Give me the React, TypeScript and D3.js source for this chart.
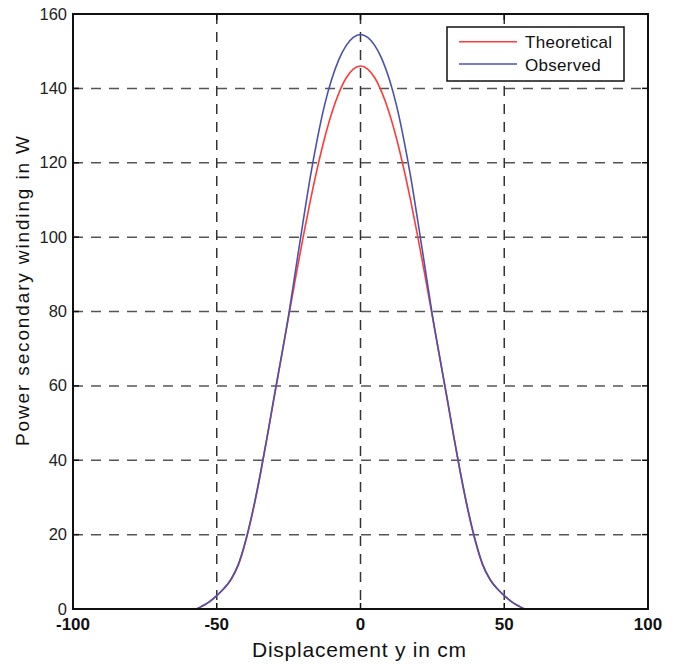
import React from "react";
import * as d3 from "d3";

const displacement = [-100, -60, -57.5, -55, -52.5, -50, -47.5, -45, -42.5, -40, -37.5, -35, -32.5, -30, -27.5, -25, -22.5, -20, -17.5, -15, -12.5, -10, -7.5, -5, -2.5, 0, 2.5, 5, 7.5, 10, 12.5, 15, 17.5, 20, 22.5, 25, 27.5, 30, 32.5, 35, 37.5, 40, 42.5, 45, 47.5, 50, 52.5, 55, 57.5, 60, 100];
const theoretical = [0, 0, 0, 0.8, 2, 3.6, 5.5, 8, 11.8, 18, 26, 35.5, 46, 57, 67.8, 78.6, 89.4, 99.8, 109.6, 118.6, 126.6, 133.4, 138.8, 142.8, 145.2, 146, 145.2, 142.8, 138.8, 133.4, 126.6, 118.6, 109.6, 99.8, 89.4, 78.6, 67.8, 57, 46, 35.5, 26, 18, 11.8, 8, 5.5, 3.6, 2, 0.8, 0, 0, 0];
const observed = [0, 0, 0, 0.8, 2, 3.6, 5.5, 8, 12, 18.3, 26.3, 35.7, 46.2, 57.3, 68, 79, 91.5, 104, 116, 126.5, 135.5, 142.5, 147.8, 151.5, 153.7, 154.5, 153.7, 151.5, 147.8, 142.5, 135.5, 126.5, 116, 104, 91.5, 79, 68, 57.3, 46.2, 35.7, 26.3, 18.3, 12, 8, 5.5, 3.6, 2, 0.8, 0, 0, 0];
const xTicks = [-100, -50, 0, 50, 100];
const yTicks = [0, 20, 40, 60, 80, 100, 120, 140, 160];
const xGrid = [-50, 0, 50];
const yGrid = [20, 40, 60, 80, 100, 120, 140];
const seriesNames = ["Theoretical", "Observed"];
const seriesColors = ["#ff3b3b", "#4a52b0"];

export default function App() {
  const W = 676, H = 664;
  const left = 73, right = 648, top = 14, bottom = 609;
  const x = d3.scaleLinear().domain([-100, 100]).range([left, right]);
  const y = d3.scaleLinear().domain([0, 160]).range([bottom, top]);
  const line = d3.line<number>().x((_, i) => x(displacement[i])).y((d) => y(d)).curve(d3.curveMonotoneX);
  const font = "'Liberation Sans', Arial, sans-serif";
  const series = [theoretical, observed];
  return (
    <svg width={W} height={H} style={{ position: "absolute", left: 0, top: 0, background: "#fff" }} fontFamily={font}>
      <rect x={0} y={0} width={W} height={H} fill="#fff" />
      {yGrid.map((v) => (
        <line key={"gy" + v} x1={left} x2={right} y1={y(v)} y2={y(v)} stroke="#555" strokeWidth={1.5} strokeDasharray="10,8" />
      ))}
      {xGrid.map((v) => (
        <line key={"gx" + v} x1={x(v)} x2={x(v)} y1={top} y2={bottom} stroke="#333" strokeWidth={1.5} strokeDasharray="10,8" />
      ))}
      {series.map((s, i) => (
        <path key={"s" + i} d={line(s) || ""} fill="none" stroke={seriesColors[i]} strokeWidth={1.6} />
      ))}
      <rect x={left} y={top} width={right - left} height={bottom - top} fill="none" stroke="#111" strokeWidth={2} />
      {xTicks.map((v) => (
        <g key={"tx" + v}>
          <line x1={x(v)} x2={x(v)} y1={bottom} y2={bottom - 6} stroke="#111" strokeWidth={1.5} />
          <line x1={x(v)} x2={x(v)} y1={top} y2={top + 6} stroke="#111" strokeWidth={1.5} />
          <text x={x(v)} y={630} textAnchor="middle" fontSize={17} fontWeight="bold" fill="#111">{v}</text>
        </g>
      ))}
      {yTicks.map((v) => (
        <g key={"ty" + v}>
          <line x1={left} x2={left + 6} y1={y(v)} y2={y(v)} stroke="#111" strokeWidth={1.5} />
          <line x1={right} x2={right - 6} y1={y(v)} y2={y(v)} stroke="#111" strokeWidth={1.5} />
          <text x={67} y={y(v) + 5.5} textAnchor="end" fontSize={16.5} fill="#222">{v}</text>
        </g>
      ))}
      <text x={359} y={657} textAnchor="middle" fontSize={21} textLength={214} lengthAdjust="spacing" fill="#111">Displacement y in cm</text>
      <text transform="translate(29,291) rotate(-90)" textAnchor="middle" fontSize={19} textLength={310} lengthAdjust="spacing" fill="#111">Power secondary winding in W</text>
      <g>
        <rect x={447} y={27} width={177} height={54} fill="#fff" stroke="#111" strokeWidth={1.5} />
        {seriesNames.map((n, i) => (
          <g key={"l" + i}>
            <line x1={459} x2={517} y1={41.7 + i * 22.3} y2={41.7 + i * 22.3} stroke={seriesColors[i]} strokeWidth={1.6} />
            <text x={525} y={47.5 + i * 23} fontSize={17} letterSpacing={0.3} fill="#111">{n}</text>
          </g>
        ))}
      </g>
    </svg>
  );
}
